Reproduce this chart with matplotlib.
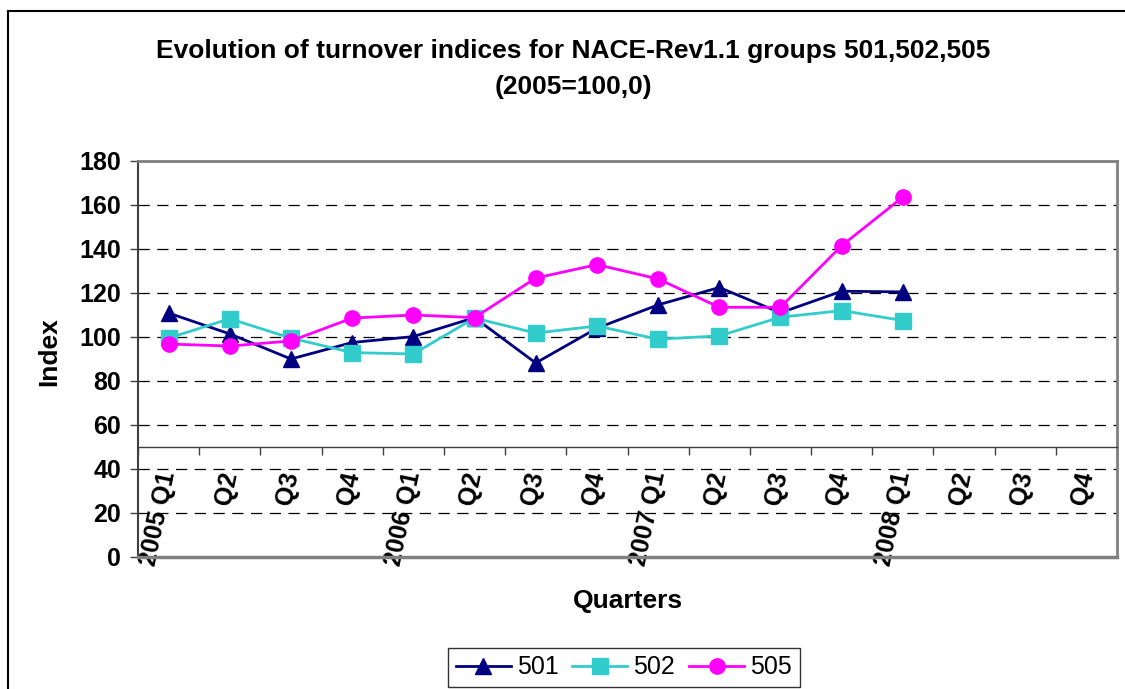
import matplotlib
matplotlib.use("Agg")
import matplotlib.pyplot as plt
from matplotlib.lines import Line2D

plt.rcParams["font.family"] = ["Liberation Sans", "DejaVu Sans"]

# ── Data ──────────────────────────────────────────────────────────────────────
quarters = ["2005 Q1", "Q2", "Q3", "Q4",
            "2006 Q1", "Q2", "Q3", "Q4",
            "2007 Q1", "Q2", "Q3", "Q4",
            "2008 Q1", "Q2", "Q3", "Q4"]
s501 = [110.9, 101.4, 90.0, 97.5, 100.2, 108.8, 88.2, 104.0, 114.6, 122.5, 111.0, 120.8, 120.5]
s502 = [99.5, 108.3, 99.5, 92.9, 92.3, 108.6, 101.8, 105.0, 99.0, 100.5, 109.0, 112.0, 107.5]
s505 = [96.8, 95.9, 98.2, 108.6, 110.0, 108.8, 126.8, 132.9, 126.4, 113.5, 113.5, 141.5, 163.6]
yticks = list(range(0, 181, 20))

# ── Figure ────────────────────────────────────────────────────────────────────
W, H = 1125, 689
fig = plt.figure(figsize=(W / 100, H / 100), dpi=100)
ax = fig.add_axes([138 / W, 1 - 557 / H, (1117 - 138) / W, (557 - 161) / H])

x = list(range(len(s501)))
ax.plot(x, s501, color="#000080", lw=2.0, marker="^", ms=12, mec="#000080", label="501", zorder=3)
ax.plot(x, s502, color="#33CCCC", lw=2.0, marker="s", ms=11, mec="#33CCCC", label="502", zorder=4)
ax.plot(x, s505, color="#FF00FF", lw=2.0, marker="o", ms=11, mec="#FF00FF", label="505", zorder=5)

ax.set_xlim(-0.5, len(quarters) - 0.5)
ax.set_ylim(0, 180)

# y axis
ax.set_yticks(yticks)
ax.set_yticklabels([str(v) for v in yticks], fontsize=18, fontweight="bold")
ax.tick_params(axis="y", direction="out", length=6, width=1, color="#404040", pad=6)
ax.yaxis.grid(True, color="black", lw=0.9, linestyle=(0, (9, 6)))
ax.set_axisbelow(True)

# category axis crosses at 50
ax.spines["bottom"].set_position(("data", 50))
ax.spines["bottom"].set_color("#404040")
ax.spines["bottom"].set_linewidth(1)
ax.set_xticks(range(len(quarters)))
ax.set_xticklabels(quarters, rotation=78, ha="right", va="center",
                   rotation_mode="anchor", fontsize=18, fontweight="bold")
ax.set_xticks([i - 0.5 for i in range(len(quarters) + 1)], minor=True)
ax.tick_params(axis="x", which="major", length=0, pad=18)
ax.tick_params(axis="x", which="minor", direction="out", length=6, width=1, color="#404040")

ax.spines["left"].set_color("#404040")
ax.spines["left"].set_linewidth(1.5)
for s in ("top", "right"):
    ax.spines[s].set_color("#808080")
    ax.spines[s].set_linewidth(2)
ax.axhline(0, color="#808080", lw=2.5, clip_on=False, zorder=6)

# texts
fig.text(573 / W, 1 - 69 / H, "Evolution of turnover indices for NACE-Rev1.1 groups 501,502,505\n(2005=100,0)",
         ha="center", va="center", fontsize=19, fontweight="bold", linespacing=1.6)
fig.text(628 / W, 1 - 601 / H, "Quarters", ha="center", va="center", fontsize=19, fontweight="bold")
fig.text(49 / W, 1 - 352 / H, "Index", ha="center", va="center", rotation=90, fontsize=19, fontweight="bold")

# outer chart border (left and top only visible)
fig.add_artist(Line2D([8 / W, 8 / W], [0, 1 - 11 / H], color="black", lw=1.5, transform=fig.transFigure))
fig.add_artist(Line2D([8 / W, 1], [1 - 11 / H, 1 - 11 / H], color="black", lw=1.5, transform=fig.transFigure))

leg = fig.legend(loc="upper left", bbox_to_anchor=(448 / W, 1 - 648 / H), ncol=3, fontsize=18,
                 frameon=True, fancybox=False, edgecolor="black", handlelength=2.2,
                 handletextpad=0.25, columnspacing=0.55, borderpad=0.3, borderaxespad=0)
leg.get_frame().set_linewidth(1)

fig.savefig("out.png", dpi=100)
